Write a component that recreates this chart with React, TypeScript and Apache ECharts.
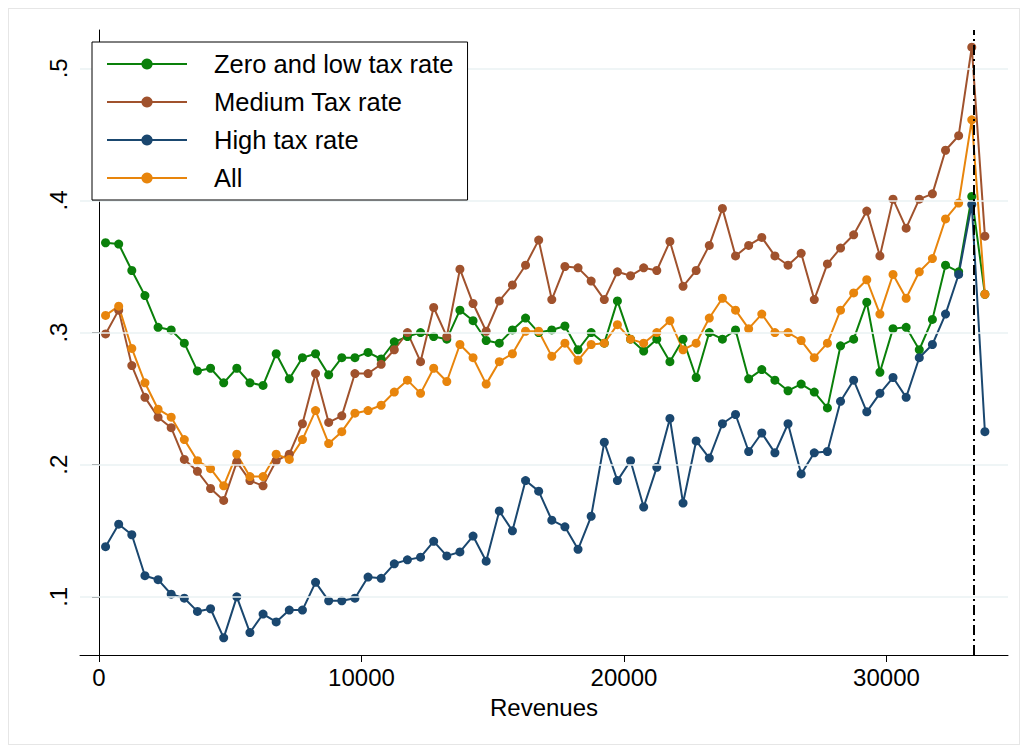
import React, { useRef, useEffect } from "react";
import * as echarts from "echarts";

// revenue bins: 250, 750, ... 33750
const revenues: number[] = Array.from({ length: 68 }, (_, i) => 250 + 500 * i);

const zeroLow = [
  0.368, 0.367, 0.347, 0.328, 0.304, 0.302, 0.292, 0.271, 0.273, 0.262, 0.273, 0.262, 0.26, 0.284, 0.265, 0.281, 0.284, 0.268, 0.281,
  0.281, 0.285, 0.28, 0.293, 0.297, 0.3, 0.297, 0.295, 0.317, 0.309, 0.294, 0.292, 0.302, 0.311, 0.3, 0.302, 0.305, 0.287,
  0.3, 0.292, 0.324, 0.295, 0.286, 0.295, 0.278, 0.295, 0.266, 0.3, 0.295, 0.302, 0.265, 0.272, 0.264, 0.256,
  0.261, 0.255, 0.243, 0.29, 0.295, 0.323, 0.27, 0.303, 0.304, 0.287, 0.31, 0.351, 0.346, 0.403, 0.329,
];
const medium = [
  0.299, 0.317, 0.275, 0.251, 0.236, 0.228, 0.204, 0.195, 0.182, 0.173, 0.202, 0.188, 0.184, 0.203, 0.208, 0.231, 0.269, 0.232, 0.237,
  0.269, 0.269, 0.276, 0.287, 0.3, 0.278, 0.319, 0.297, 0.348, 0.322, 0.301, 0.324, 0.336, 0.351, 0.37, 0.325, 0.35, 0.349,
  0.339, 0.325, 0.346, 0.343, 0.349, 0.347, 0.369, 0.335, 0.347, 0.366, 0.394, 0.358, 0.366, 0.372, 0.358, 0.351,
  0.36, 0.325, 0.352, 0.364, 0.374, 0.392, 0.358, 0.401, 0.379, 0.401, 0.405, 0.438, 0.449, 0.516, 0.373,
];
const high = [
  0.138, 0.155, 0.147, 0.116, 0.113, 0.102, 0.099, 0.089, 0.091, 0.069, 0.1, 0.073, 0.087, 0.081, 0.09, 0.09, 0.111, 0.097, 0.097,
  0.099, 0.115, 0.114, 0.125, 0.128, 0.13, 0.142, 0.131, 0.134, 0.146, 0.127, 0.165, 0.15, 0.188, 0.18, 0.158, 0.153, 0.136,
  0.161, 0.217, 0.188, 0.203, 0.168, 0.198, 0.235, 0.171, 0.218, 0.205, 0.231, 0.238, 0.21, 0.224, 0.209, 0.231,
  0.193, 0.209, 0.21, 0.248, 0.264, 0.24, 0.254, 0.266, 0.251, 0.281, 0.291, 0.314, 0.344, 0.397, 0.225,
];
const all = [
  0.313, 0.32, 0.288, 0.262, 0.242, 0.236, 0.219, 0.203, 0.197, 0.184, 0.208, 0.191, 0.191, 0.208, 0.204, 0.219, 0.241, 0.216, 0.225,
  0.239, 0.241, 0.245, 0.255, 0.264, 0.254, 0.273, 0.263, 0.291, 0.281, 0.261, 0.278, 0.284, 0.301, 0.301, 0.282, 0.292, 0.279,
  0.291, 0.292, 0.306, 0.295, 0.292, 0.3, 0.309, 0.287, 0.292, 0.311, 0.326, 0.317, 0.303, 0.314, 0.3, 0.3,
  0.294, 0.281, 0.292, 0.317, 0.33, 0.34, 0.314, 0.344, 0.326, 0.346, 0.356, 0.386, 0.398, 0.461, 0.329,
];

const xTicks = [0, 10000, 20000, 30000];
const yTicks = [0.1, 0.2, 0.3, 0.4, 0.5];
const cutoff = 33330;

const FONT = "Liberation Sans";

const App = () => {
  const chartRef = useRef<HTMLDivElement>(null);

  useEffect(() => {
    document.body.style.margin = "0";
    const chart = echarts.init(chartRef.current, null, { renderer: "svg" });
    const mk = (name: string, data: number[], color: string) => ({
      name,
      type: "line",
      data: revenues.map((x, i) => [x, data[i]]),
      symbol: "circle",
      symbolSize: 9,
      lineStyle: { color, width: 2 },
      itemStyle: { color },
      z: 3,
    });
    chart.setOption({
      animation: false,
      backgroundColor: "#fff",
      grid: { left: 80, right: 20, top: 30, bottom: 98 },
      legend: {
        orient: "vertical",
        left: 92,
        top: 42,
        z: 20,
        padding: [9, 14, 9, 14],
        itemWidth: 80,
        itemHeight: 14,
        itemGap: 12,
        borderColor: "#000",
        borderWidth: 1,
        backgroundColor: "#fff",
        textStyle: { fontFamily: FONT, fontSize: 25.5, color: "#000", padding: [0, 0, 0, 22] },
        data: ["Zero and low tax rate", "Medium Tax rate", "High tax rate", "All"],
      },
      xAxis: {
        type: "value",
        min: -724,
        max: 34630,
        name: "Revenues",
        nameLocation: "middle",
        nameGap: 40,
        nameTextStyle: { fontFamily: FONT, fontSize: 24, color: "#000" },
        axisLine: { show: true, lineStyle: { color: "#000", width: 1 } },
        axisTick: { show: true, length: 7, customValues: xTicks, lineStyle: { color: "#000" } },
        axisLabel: {
          customValues: xTicks,
          fontFamily: FONT,
          fontSize: 24,
          color: "#000",
          margin: 10,
          formatter: (v: number) => String(v),
        },
        splitLine: { show: false },
      },
      yAxis: {
        type: "value",
        min: 0.056,
        max: 0.529,
        axisLine: { show: true, lineStyle: { color: "#000", width: 1 } },
        axisTick: { show: true, length: 7, customValues: yTicks, lineStyle: { color: "#000" } },
        axisLabel: {
          customValues: yTicks,
          rotate: 90,
          fontFamily: FONT,
          fontSize: 24,
          color: "#000",
          margin: 10,
          formatter: (v: number) => "." + Math.round(v * 10),
        },
        splitLine: { show: false },
      },
      series: [
        {
          name: "grid",
          type: "line",
          data: [],
          silent: true,
          z: 1,
          markLine: {
            silent: true,
            symbol: "none",
            label: { show: false },
            lineStyle: { color: "#eaf2f3", type: "solid", width: 1.5 },
            data: yTicks.map((v) => ({ yAxis: v })),
          },
        },
        {
          name: "cut",
          type: "line",
          data: [],
          silent: true,
          z: 2,
          markLine: {
            silent: true,
            symbol: "none",
            label: { show: false },
            lineStyle: { color: "#000", type: [10, 4, 2, 4], width: 2 },
            data: [{ xAxis: cutoff }],
          },
        },
        mk("Zero and low tax rate", zeroLow, "#0a800a"),
        mk("Medium Tax rate", medium, "#a0522d"),
        mk("High tax rate", high, "#1a476f"),
        mk("All", all, "#e8850c"),
      ],
    });
    return () => chart.dispose();
  }, []);

  return (
    <div style={{ width: 1028, height: 753, position: "relative" }}>
      <div ref={chartRef} style={{ width: 1028, height: 753 }} />
      <div
        style={{
          position: "absolute",
          left: 8,
          top: 8,
          width: 1010,
          height: 735,
          border: "1px solid #e6e6e6",
          pointerEvents: "none",
        }}
      />
    </div>
  );
};

export default App;
